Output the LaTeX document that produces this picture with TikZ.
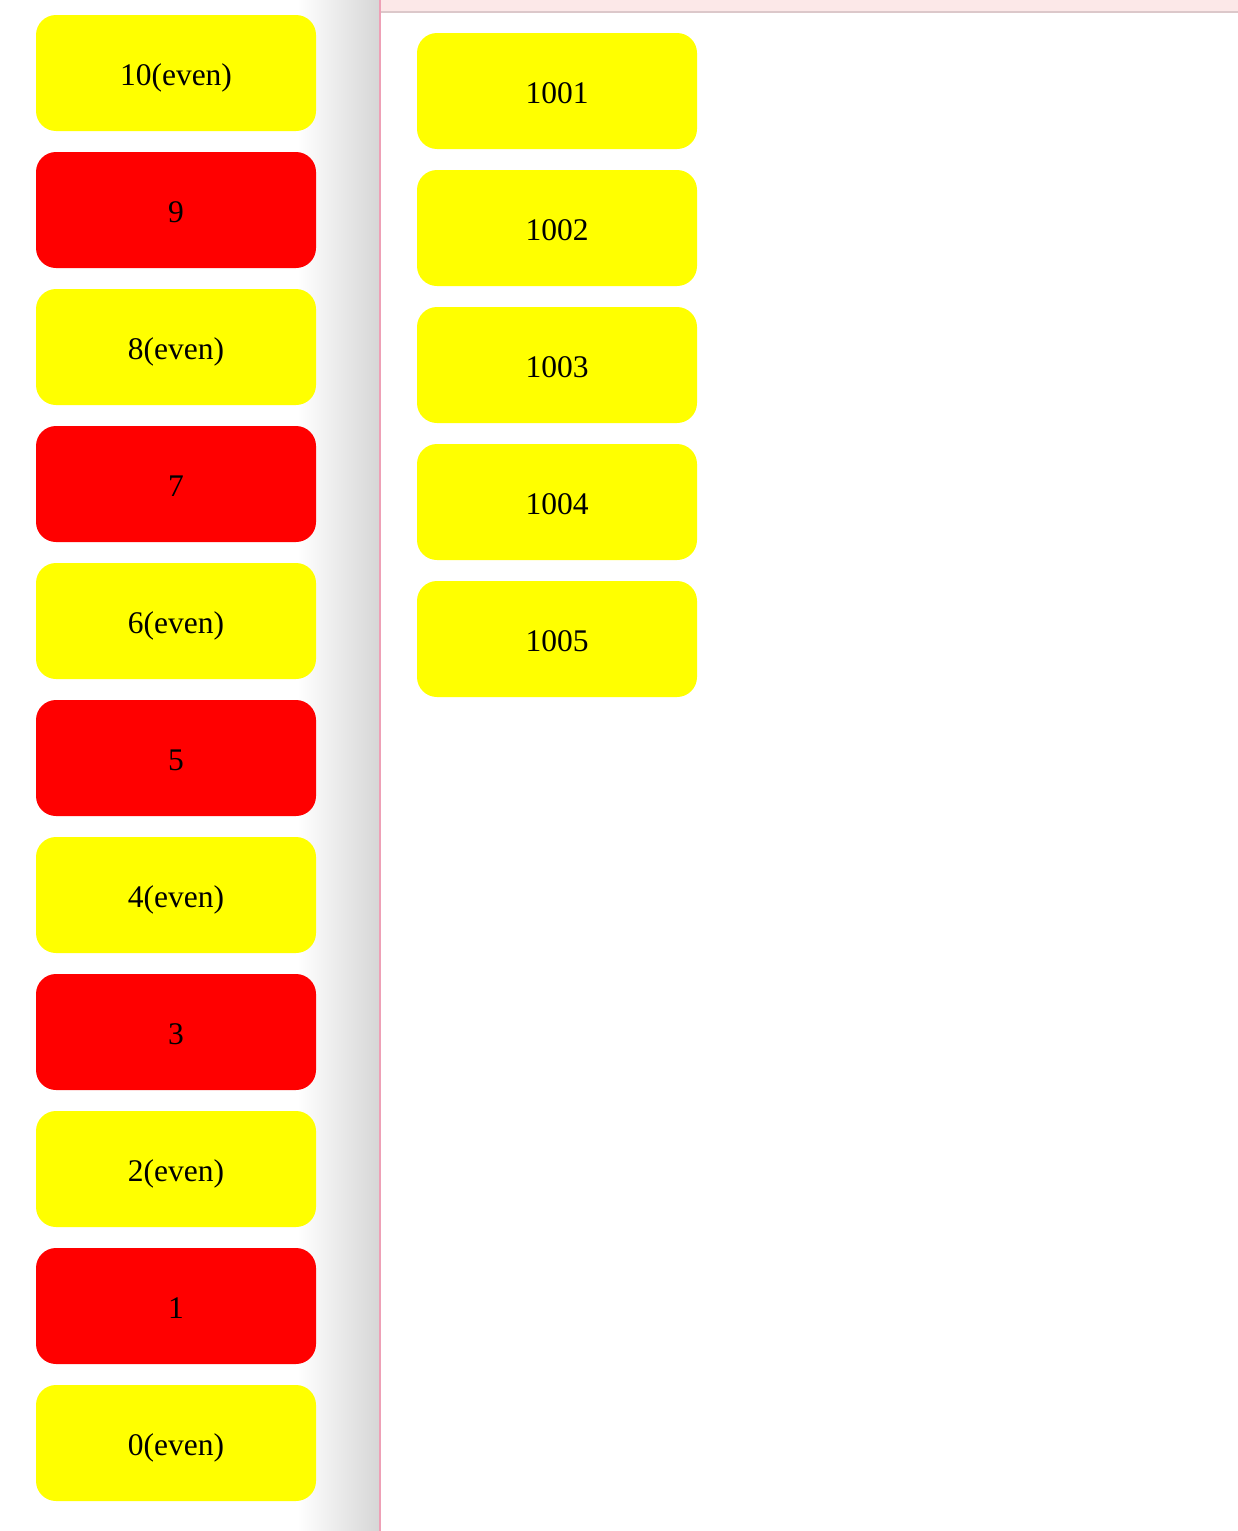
\documentclass[tikz,border=0pt]{standalone}
\usepackage{fontspec}
\setmainfont{Liberation Serif}
\usepackage{tikz}
\usetikzlibrary{positioning}
\usepackage{xcolor}
\definecolor{paneline}{RGB}{238,160,182}
\definecolor{barfill}{RGB}{252,232,232}
\definecolor{barline}{RGB}{220,200,202}
\definecolor{boxyellow}{RGB}{255,255,0}
\definecolor{boxred}{RGB}{255,0,0}

\begin{document}
\begin{tikzpicture}[
        x=1pt, y=-1pt,
        node distance=21pt,
        item/.style={rectangle, rounded corners=20pt, minimum width=280pt, minimum height=116pt, inner sep=0pt, outer sep=0pt, text height=24pt, text depth=0pt, text centered, font=\fontsize{31.5}{37}\selectfont},
        evenbox/.style={item, fill=boxyellow},
        oddbox/.style={item, fill=boxred}
    ]
        \useasboundingbox (0,0) rectangle (1238,1531);

        % Panel edge
        \shade[left color=white, right color=black!16] (298,0) rectangle (379,1531);
        \fill[paneline] (379,0) rectangle (381,1531);
        \fill[barfill] (381,0) rectangle (1238,11);
        \fill[barline] (381,11) rectangle (1238,13);

        % Left column
        \node[evenbox] (n10) at (176,73) {10(even)};
        \node[oddbox, below=of n10] (n9) {9};
        \node[evenbox, below=of n9] (n8) {8(even)};
        \node[oddbox, below=of n8] (n7) {7};
        \node[evenbox, below=of n7] (n6) {6(even)};
        \node[oddbox, below=of n6] (n5) {5};
        \node[evenbox, below=of n5] (n4) {4(even)};
        \node[oddbox, below=of n4] (n3) {3};
        \node[evenbox, below=of n3] (n2) {2(even)};
        \node[oddbox, below=of n2] (n1) {1};
        \node[evenbox, below=of n1] (n0) {0(even)};

        % Right column
        \node[evenbox] (r1001) at (557,91) {1001};
        \node[evenbox, below=of r1001] (r1002) {1002};
        \node[evenbox, below=of r1002] (r1003) {1003};
        \node[evenbox, below=of r1003] (r1004) {1004};
        \node[evenbox, below=of r1004] (r1005) {1005};
    \end{tikzpicture}
\end{document}
